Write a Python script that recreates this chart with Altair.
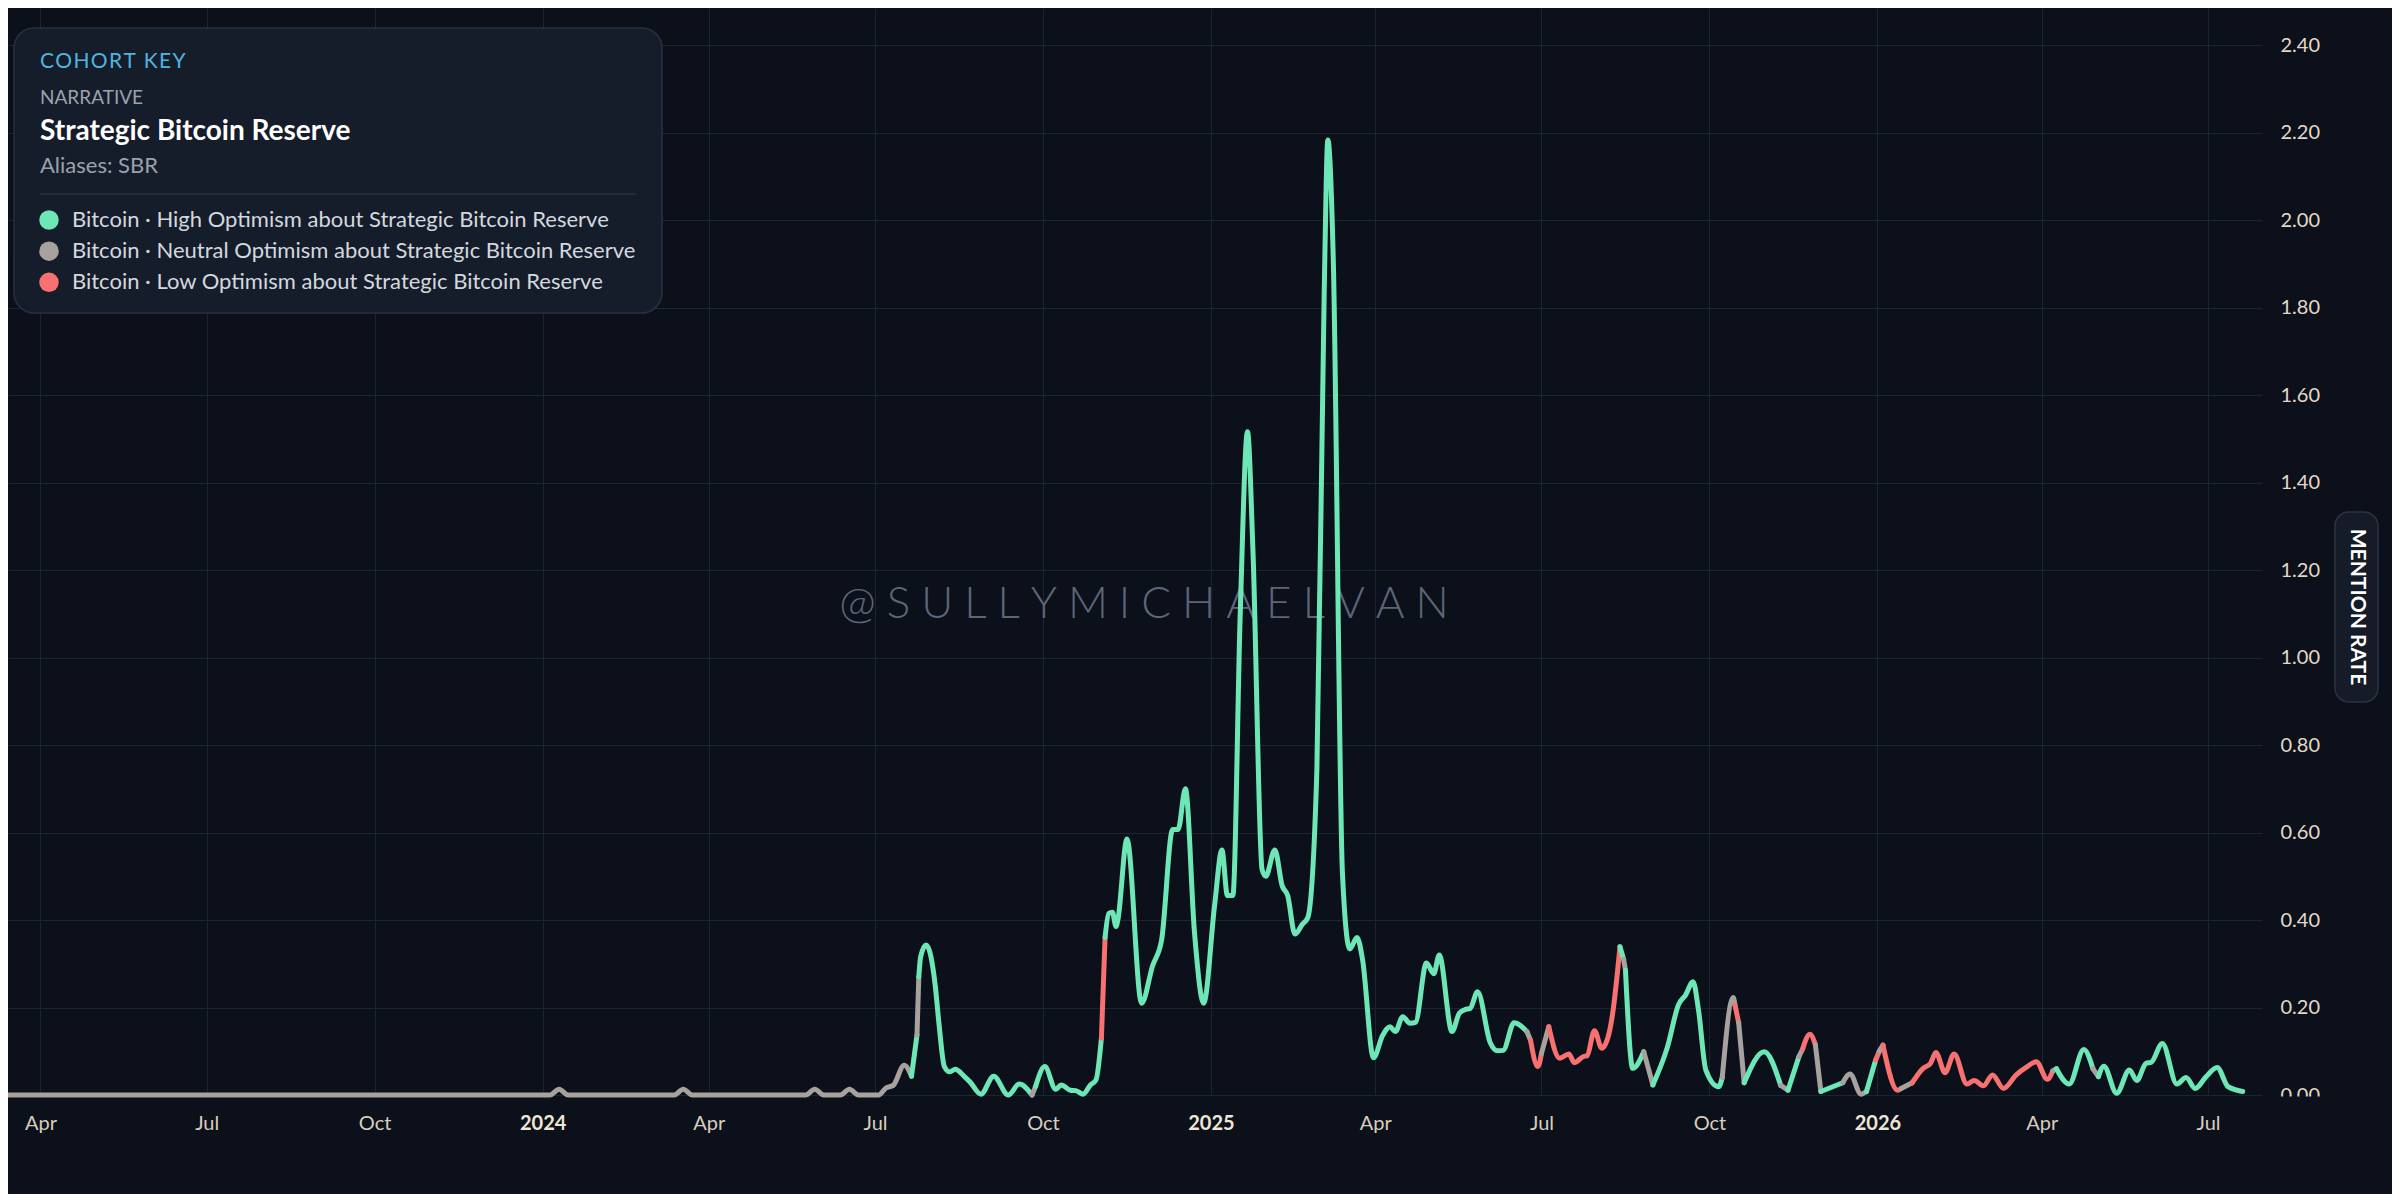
import altair as alt
import pandas as pd

# ---------------- data ----------------
cohort_labels = {
    "H": "Bitcoin · High Optimism about Strategic Bitcoin Reserve",
    "N": "Bitcoin · Neutral Optimism about Strategic Bitcoin Reserve",
    "L": "Bitcoin · Low Optimism about Strategic Bitcoin Reserve",
}
cohort_order = [cohort_labels["H"], cohort_labels["N"], cohort_labels["L"]]
cohort_colors = ["#6ee7b7", "#a8a29e", "#f87171"]

dates = [
    "2023-03-14", "2024-01-05", "2024-01-10", "2024-01-15", "2024-03-13", "2024-03-18",
    "2024-03-23", "2024-05-24", "2024-05-29", "2024-06-03", "2024-06-12", "2024-06-17",
    "2024-06-22", "2024-07-03", "2024-07-07", "2024-07-11", "2024-07-17", "2024-07-21",
    "2024-07-24", "2024-07-25", "2024-07-26", "2024-07-29", "2024-08-03", "2024-08-05",
    "2024-08-08", "2024-08-11", "2024-08-14", "2024-08-19", "2024-08-22", "2024-08-28",
    "2024-09-04", "2024-09-12", "2024-09-18", "2024-09-25", "2024-09-27", "2024-10-02",
    "2024-10-08", "2024-10-11", "2024-10-16", "2024-10-19", "2024-10-23", "2024-10-27",
    "2024-10-30", "2024-11-02", "2024-11-04", "2024-11-06", "2024-11-08", "2024-11-10",
    "2024-11-11", "2024-11-16", "2024-11-24", "2024-11-30", "2024-12-05", "2024-12-11",
    "2024-12-14", "2024-12-18", "2024-12-23", "2024-12-28", "2025-01-03", "2025-01-07",
    "2025-01-10", "2025-01-13", "2025-01-17", "2025-01-21", "2025-01-24", "2025-01-29",
    "2025-01-31", "2025-02-05", "2025-02-09", "2025-02-12", "2025-02-16", "2025-02-20",
    "2025-02-23", "2025-02-28", "2025-03-04", "2025-03-06", "2025-03-09", "2025-03-14",
    "2025-03-18", "2025-03-22", "2025-03-25", "2025-03-31", "2025-04-05", "2025-04-09",
    "2025-04-12", "2025-04-16", "2025-04-20", "2025-04-23", "2025-04-29", "2025-05-03",
    "2025-05-06", "2025-05-13", "2025-05-17", "2025-05-20", "2025-05-23", "2025-05-27",
    "2025-06-03", "2025-06-07", "2025-06-10", "2025-06-16", "2025-06-23", "2025-06-25",
    "2025-06-29", "2025-07-01", "2025-07-05", "2025-07-11", "2025-07-16", "2025-07-19",
    "2025-07-24", "2025-07-26", "2025-07-30", "2025-08-03", "2025-08-07", "2025-08-09",
    "2025-08-13", "2025-08-15", "2025-08-16", "2025-08-20", "2025-08-26", "2025-08-31",
    "2025-09-08", "2025-09-14", "2025-09-18", "2025-09-22", "2025-09-25", "2025-09-29",
    "2025-10-06", "2025-10-08", "2025-10-14", "2025-10-15", "2025-10-17", "2025-10-20",
    "2025-10-31", "2025-11-09", "2025-11-13", "2025-11-19", "2025-11-21", "2025-11-25",
    "2025-11-28", "2025-12-01", "2025-12-13", "2025-12-17", "2025-12-23", "2025-12-26",
    "2025-12-31", "2026-01-02", "2026-01-04", "2026-01-12", "2026-01-14", "2026-01-20",
    "2026-01-26", "2026-01-30", "2026-02-02", "2026-02-07", "2026-02-12", "2026-02-19",
    "2026-02-23", "2026-02-28", "2026-03-05", "2026-03-11", "2026-03-18", "2026-03-24",
    "2026-03-29", "2026-04-04", "2026-04-07", "2026-04-09", "2026-04-16", "2026-04-24",
    "2026-04-29", "2026-05-02", "2026-05-05", "2026-05-12", "2026-05-19", "2026-05-23",
    "2026-05-28", "2026-05-31", "2026-06-06", "2026-06-14", "2026-06-19", "2026-06-24",
    "2026-06-30", "2026-07-06", "2026-07-12", "2026-07-20",
]

mention_rate = [
    0.0, 0.0, 0.013, 0.0, 0.0, 0.013,
    0.0, 0.0, 0.013, 0.0, 0.0, 0.013,
    0.0, 0.0, 0.016, 0.022, 0.068, 0.043,
    0.137, 0.27, 0.316, 0.343, 0.25, 0.165,
    0.065, 0.053, 0.059, 0.042, 0.03, 0.002,
    0.043, 0.0, 0.025, 0.0, 0.02, 0.065,
    0.013, 0.023, 0.011, 0.01, 0.002, 0.023,
    0.034, 0.13, 0.36, 0.415, 0.418, 0.385,
    0.40, 0.585, 0.21, 0.295, 0.355, 0.607,
    0.607, 0.70, 0.37, 0.21, 0.434, 0.56,
    0.456, 0.456, 1.097, 1.516, 1.243, 0.515,
    0.50, 0.56, 0.478, 0.456, 0.368, 0.39,
    0.405, 0.743, 1.833, 2.183, 1.906, 0.507,
    0.334, 0.36, 0.31, 0.085, 0.136, 0.156,
    0.145, 0.179, 0.164, 0.166, 0.302, 0.277,
    0.32, 0.145, 0.187, 0.195, 0.198, 0.236,
    0.119, 0.101, 0.102, 0.165, 0.145, 0.125,
    0.065, 0.095, 0.156, 0.084, 0.094, 0.074,
    0.088, 0.09, 0.147, 0.107, 0.141, 0.187,
    0.339, 0.31, 0.285, 0.061, 0.099, 0.023,
    0.11, 0.206, 0.229, 0.259, 0.194, 0.057,
    0.019, 0.04, 0.223, 0.205, 0.165, 0.028,
    0.099, 0.022, 0.011, 0.088, 0.105, 0.139,
    0.115, 0.008, 0.028, 0.048, 0.002, 0.008,
    0.08, 0.1, 0.114, 0.011, 0.015, 0.028,
    0.061, 0.072, 0.097, 0.051, 0.094, 0.025,
    0.033, 0.021, 0.046, 0.015, 0.046, 0.065,
    0.076, 0.036, 0.055, 0.06, 0.025, 0.104,
    0.06, 0.042, 0.066, 0.004, 0.057, 0.033,
    0.072, 0.075, 0.118, 0.025, 0.04, 0.015,
    0.042, 0.063, 0.019, 0.008,
]

tone = [
    "N", "N", "N", "N", "N", "N",
    "N", "N", "N", "N", "N", "N",
    "N", "N", "N", "N", "N", "H",
    "N", "H", "H", "H", "H", "H",
    "H", "H", "H", "H", "H", "H",
    "H", "H", "H", "N", "H", "H",
    "H", "H", "H", "H", "H", "H",
    "H", "L", "H", "H", "H", "H",
    "H", "H", "H", "H", "H", "H",
    "H", "H", "H", "H", "H", "H",
    "H", "H", "H", "H", "H", "H",
    "H", "H", "H", "H", "H", "H",
    "H", "H", "H", "H", "H", "H",
    "H", "H", "H", "H", "H", "H",
    "H", "H", "H", "H", "H", "H",
    "H", "H", "H", "H", "H", "H",
    "H", "H", "H", "H", "N", "L",
    "L", "N", "L", "L", "L", "L",
    "L", "L", "L", "L", "L", "L",
    "H", "N", "H", "H", "N", "H",
    "H", "H", "H", "H", "H", "H",
    "H", "N", "N", "L", "N", "H",
    "H", "N", "H", "N", "L", "L",
    "N", "H", "N", "N", "N", "H",
    "L", "N", "L", "L", "N", "L",
    "L", "L", "L", "L", "L", "L",
    "L", "L", "L", "L", "L", "L",
    "L", "L", "N", "H", "H", "H",
    "N", "H", "H", "H", "H", "H",
    "H", "H", "H", "H", "H", "H",
    "H", "H", "H", "H",
]

x_tick_dates = [
    (2023, 4), (2023, 7), (2023, 10), (2024, 1), (2024, 4), (2024, 7), (2024, 10),
    (2025, 1), (2025, 4), (2025, 7), (2025, 10), (2026, 1), (2026, 4), (2026, 7),
]
y_ticks = [0.0, 0.2, 0.4, 0.6, 0.8, 1.0, 1.2, 1.4, 1.6, 1.8, 2.0, 2.2, 2.4]

# Build coloured runs: each run carries the first point of the next run so the line stays continuous
rows = []
run = 0
for i, (d, v, t) in enumerate(zip(dates, mention_rate, tone)):
    if i > 0 and t != tone[i - 1]:
        rows.append({"date": d, "value": v, "cohort": cohort_labels[tone[i - 1]], "run": run})
        run += 1
    rows.append({"date": d, "value": v, "cohort": cohort_labels[t], "run": run})
df = pd.DataFrame(rows)

key_df = pd.DataFrame({"cohort": cohort_order})
one = pd.DataFrame({"k": [0]})

BG = "#0b101b"
PANEL = "#161d2a"
PANEL_STROKE = "#283040"
FONT = "Lato"

W, H = 2254, 1087

color_scale = alt.Scale(domain=cohort_order, range=cohort_colors)

x_axis = alt.Axis(
    values=[alt.DateTime(year=y, month=m, date=1, utc=True) for y, m in x_tick_dates],
    labelExpr="utcmonth(datum.value) == 0 ? utcFormat(datum.value, '%Y') : utcFormat(datum.value, '%b')",
    labelFontWeight={"condition": {"test": "utcmonth(datum.value) == 0", "value": "bold"}, "value": "normal"},
    labelColor={"condition": {"test": "utcmonth(datum.value) == 0", "value": "#efe6d4"}, "value": "#d8cebd"},
    labelFont=FONT,
    labelFontSize=20,
    labelPadding=18,
    labelAlign="center",
    ticks=False,
    domain=False,
    grid=True,
    title=None,
    zindex=0,
)

y_axis = alt.Axis(
    orient="right",
    values=y_ticks,
    format=".2f",
    labelFont=FONT,
    labelFontSize=20,
    labelColor="#e3d9c6",
    labelPadding=18,
    labelAlign="left",
    ticks=False,
    domain=False,
    grid=True,
    title=None,
    zindex=0,
)

lines = alt.Chart(df).mark_line(
    interpolate="monotone", strokeWidth=5, strokeCap="round", strokeJoin="round"
).encode(
    x=alt.X(
        "date:T",
        scale=alt.Scale(
            type="utc",
            domain=[
                alt.DateTime(year=2023, month=3, date=14, hours=5, utc=True),
                alt.DateTime(year=2026, month=7, date=30, hours=14, utc=True),
            ],
        ),
        axis=x_axis,
    ),
    y=alt.Y("value:Q", scale=alt.Scale(domain=[0, 2.4846], nice=False), axis=y_axis),
    color=alt.Color("cohort:N", scale=color_scale, legend=None),
    detail="run:N",
)

# cohort key entries (drawn with the same colour scale)
key_rows = alt.Scale(type="point", domain=cohort_order, range=[212, 274.3], padding=0)
key_dots = alt.Chart(key_df).mark_point(filled=True, size=380, opacity=1, strokeWidth=0).encode(
    x=alt.value(41),
    y=alt.Y("cohort:N", scale=key_rows, axis=None),
    color=alt.Color("cohort:N", scale=color_scale, legend=None),
)
key_text = alt.Chart(key_df).mark_text(
    align="left", baseline="middle", font=FONT, fontSize=22, color="#d3d8df"
).encode(
    x=alt.value(64),
    y=alt.Y("cohort:N", scale=key_rows, axis=None),
    text="cohort:N",
)

panel = alt.Chart(one).mark_rect(
    cornerRadius=20, fill=PANEL, stroke=PANEL_STROKE, strokeWidth=1.5
).encode(x=alt.value(6), x2=alt.value(654), y=alt.value(20), y2=alt.value(305))

divider = alt.Chart(one).mark_rule(color="#2a3241", strokeWidth=1.5).encode(
    x=alt.value(32), x2=alt.value(628), y=alt.value(186)
)

def label(text, y, size, color, weight="normal"):
    return alt.Chart(one).mark_text(
        text=text, align="left", baseline="middle", font=FONT,
        fontSize=size, fontWeight=weight, color=color,
    ).encode(x=alt.value(32), y=alt.value(y))

t_key = label("\u200a".join("COHORT KEY"), 54, 21, "#4fb5df")
t_kind = label("NARRATIVE", 90, 19, "#9aa2ad")
t_name = label("Strategic Bitcoin Reserve", 124, 28, "#ffffff", "bold")
t_alias = label("Aliases: SBR", 158, 22, "#9aa2ad")

watermark = alt.Chart(one).mark_text(
    text="\u2005".join("@SULLYMICHAELVAN"),
    align="center", baseline="middle", font=FONT, fontSize=44, fontWeight=300,
    color="#5c6678",
).encode(x=alt.value(1136), y=alt.value(597))

zero_mask = alt.Chart(one).mark_rect(fill=BG).encode(
    x=alt.value(2266), x2=alt.value(2332), y=alt.value(1088.5), y2=alt.value(1112)
)

badge = alt.Chart(one).mark_rect(
    cornerRadius=14, fill="#151b27", stroke="#2a3344", strokeWidth=1.5
).encode(x=alt.value(2327), x2=alt.value(2370), y=alt.value(504), y2=alt.value(694))

badge_text = alt.Chart(one).mark_text(
    text="MENTION RATE", angle=90, align="center", baseline="middle",
    font=FONT, fontSize=21, fontWeight="bold", color="#ffffff",
).encode(x=alt.value(2349), y=alt.value(599))

chart = alt.layer(
    panel, divider, t_key, t_kind, t_name, t_alias, watermark, lines,
    key_dots, key_text, zero_mask, badge, badge_text,
).resolve_scale(
    y="independent",
).properties(
    width=W,
    height=H,
    autosize=alt.AutoSizeParams(type="none"),
    padding={"left": 0, "top": 0, "right": 130, "bottom": 99},
).configure(
    background=BG,
).configure_view(
    strokeWidth=0,
).configure_axis(
    gridColor="#1c2331",
    gridWidth=1,
)

chart.save("out.html", embed_options={"renderer": "svg", "actions": False})
